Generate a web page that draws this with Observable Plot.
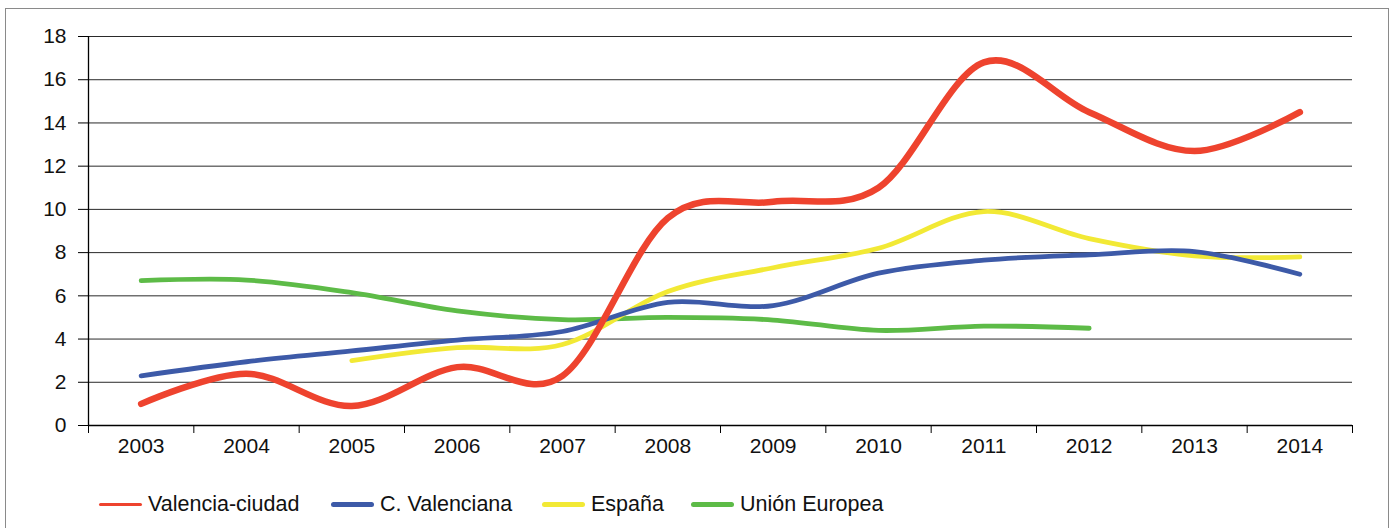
<!DOCTYPE html>
<html>
<head>
<meta charset="utf-8">
<script src="https://cdn.jsdelivr.net/npm/d3@7"></script>
<script src="https://cdn.jsdelivr.net/npm/@observablehq/plot@0.6"></script>
<style>
  html, body { margin: 0; padding: 0; background: #fff; }
  body { width: 1395px; height: 528px; position: relative; overflow: hidden;
         font-family: "Liberation Sans", Arial, Helvetica, sans-serif; }
  #frame { position: absolute; left: 5px; top: 8px; width: 1384px; height: 540px;
           border: 1.5px solid #8a8a8a; box-sizing: border-box; }
  #chart { position: absolute; left: 0; top: 0; }
  #legend { position: absolute; top: 491px; left: 0; width: 1395px; height: 26px; }
  .item { position: absolute; top: 0; display: flex; align-items: center; height: 26px;
          font-size: 21.5px; color: #111; }
  .sw { display: inline-block; width: 43px; border-radius: 3px; margin-right: 6px; }
</style>
</head>
<body>
<div id="frame"></div>
<div id="chart"></div>
<div id="legend"></div>
<script>
const years = [2003, 2004, 2005, 2006, 2007, 2008, 2009, 2010, 2011, 2012, 2013, 2014];
const seriesNames = ["Valencia-ciudad", "C. Valenciana", "España", "Unión Europea"];
const seriesColors = ["#ee432e", "#3d5aa8", "#f2e935", "#5dbb47"];
const valenciaCiudad = [1.0, 2.4, 0.9, 2.7, 2.3, 9.6, 10.35, 11.0, 16.8, 14.5, 12.7, 14.5];
const cValenciana   = [2.3, 2.95, 3.45, 3.95, 4.35, 5.7, 5.55, 7.05, 7.65, 7.9, 8.05, 7.0];
const espana        = [null, null, 3.0, 3.6, 3.75, 6.2, 7.3, 8.2, 9.9, 8.65, 7.85, 7.8];
const unionEuropea  = [6.7, 6.73, 6.15, 5.3, 4.9, 5.0, 4.88, 4.4, 4.6, 4.5, null, null];
const yTicks = [0, 2, 4, 6, 8, 10, 12, 14, 16, 18];

const widths = [6.5, 4.8, 4.8, 4.8];
const allSeries = [valenciaCiudad, cValenciana, espana, unionEuropea];
const rows = (vals) => years.map((yr, i) => ({year: yr, value: vals[i]})).filter(d => d.value != null);
const bounds = years.map(y => y - 0.5).concat([years[years.length - 1] + 0.5]);

// draw order: green, yellow, blue, red (red on top)
const order = [3, 2, 1, 0];
const lineMarks = order.map(k => Plot.line(rows(allSeries[k]), {
  x: "year", y: "value", stroke: seriesColors[k], strokeWidth: widths[k],
  curve: "cardinal", tension: 0, strokeLinecap: "round", strokeLinejoin: "round"
}));

const chart = Plot.plot({
  width: 1395,
  height: 460,
  marginLeft: 88,
  marginRight: 43,
  marginTop: 36,
  marginBottom: 35,
  style: {fontFamily: "'Liberation Sans', Arial, Helvetica, sans-serif", fontSize: "21px", color: "#111", background: "transparent"},
  x: {domain: [years[0] - 0.5, years[years.length - 1] + 0.5]},
  y: {domain: [0, 18]},
  marks: [
    Plot.ruleY(yTicks.filter(t => t > 0), {stroke: "#2a2a2a", strokeWidth: 1}),
    Plot.axisY({ticks: yTicks, tickSize: 10, tickPadding: 12, tickFormat: d => String(d), label: null, stroke: "#000", strokeOpacity: 1}),
    Plot.axisX({ticks: bounds, tickSize: 8, tickFormat: () => "", label: null, stroke: "#000", strokeOpacity: 1}),
    Plot.axisX({ticks: years, tickSize: 0, tickPadding: 13, tickFormat: d => String(d), label: null}),
    Plot.ruleX([bounds[0]], {stroke: "#000", strokeWidth: 1.3}),
    Plot.ruleY([0], {stroke: "#000", strokeWidth: 1.5}),
    ...lineMarks
  ]
});
document.getElementById("chart").appendChild(chart);

const legendLefts = [99, 331, 542, 691];
const swH = [3, 5, 5, 5];
const legend = document.getElementById("legend");
seriesNames.forEach((name, i) => {
  const item = document.createElement("div");
  item.className = "item";
  item.style.left = legendLefts[i] + "px";
  const sw = document.createElement("span");
  sw.className = "sw";
  sw.style.height = swH[i] + "px";
  sw.style.background = seriesColors[i];
  const tx = document.createElement("span");
  tx.textContent = name;
  item.appendChild(sw);
  item.appendChild(tx);
  legend.appendChild(item);
});
</script>
</body>
</html>
